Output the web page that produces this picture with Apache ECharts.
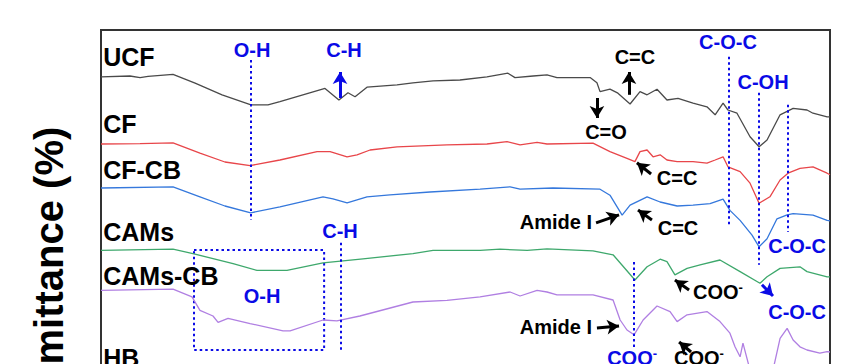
<!DOCTYPE html>
<html>
<head>
<meta charset="utf-8">
<script src="https://cdn.jsdelivr.net/npm/echarts@6/dist/echarts.min.js"></script>
<style>
html,body{margin:0;padding:0;width:850px;height:364px;overflow:hidden;background:#fff;}
#c{width:850px;height:460px;}
</style>
</head>
<body>
<div id="c"></div>
<script>
// Wavenumber (cm-1), transmittance (offset, a.u.)
const ucf = [[4000,88.3],[3869,88.5],[3823,88.1],[3787,88.4],[3674,88.9],[3574,86.7],[3452,83.8],[3321,81.3],[3244,81.3],[3190,82.1],[2986,85.4],[2923,82.5],[2882,84.3],[2850,83.3],[2796,85.7],[2660,86.3],[2588,86.8],[2497,87.3],[2375,87.5],[2253,88.3],[2158,89.2],[2126,88.1],[2044,88.5],[1981,88.8],[1936,88.1],[1786,88.1],[1755,86.8],[1741,84.6],[1696,85.2],[1660,84.2],[1605,81.5],[1560,84.6],[1528,83.8],[1483,85.2],[1438,82.5],[1388,82.9],[1320,81.7],[1257,80.8],[1220,78.8],[1184,81.7],[1162,80.0],[1121,79.2],[1062,73.3],[1021,70.8],[985,72.5],[926,78.8],[867,80.4],[804,80.0],[777,79.2],[713,78.3],[700,78.3]];
const cf = [[4000,71.5],[3823,71.6],[3674,71.8],[3552,69.2],[3439,67.0],[3325,66.1],[3190,67.5],[3022,69.6],[2963,69.6],[2886,68.3],[2841,68.8],[2782,70.0],[2660,70.8],[2434,71.3],[2253,71.5],[2162,72.1],[2103,71.3],[2026,71.9],[1981,71.5],[1773,71.7],[1696,69.6],[1619,67.9],[1583,67.1],[1560,69.6],[1528,70.0],[1501,68.3],[1469,68.8],[1438,67.5],[1392,67.1],[1320,67.1],[1257,66.7],[1220,67.5],[1184,68.3],[1162,65.8],[1107,64.6],[1062,61.7],[1021,56.7],[972,58.3],[926,62.5],[890,64.2],[836,65.4],[777,65.8],[713,64.2],[700,63.8]];
const cfcb = [[4000,60.5],[3674,60.8],[3552,58.3],[3439,56.0],[3322,54.3],[3190,55.8],[2995,58.3],[2950,57.8],[2886,56.8],[2796,58.3],[2692,58.8],[2511,59.5],[2284,60.2],[2148,60.8],[2103,60.2],[1954,60.5],[1741,60.2],[1696,58.7],[1641,53.7],[1605,56.2],[1528,58.3],[1469,57.0],[1392,56.0],[1320,56.2],[1243,56.6],[1184,57.7],[1153,54.9],[1107,52.4],[1053,48.7],[1021,45.8],[985,47.8],[940,52.8],[894,53.8],[867,54.1],[777,53.7],[713,52.4],[700,52.3]];
const cams = [[4000,44.9],[3674,45.2],[3584,44.1],[3402,41.6],[3294,39.9],[3158,39.9],[2995,41.8],[2814,42.8],[2588,44.1],[2497,44.9],[2284,44.9],[2194,45.2],[2071,44.9],[1981,45.3],[1773,44.8],[1682,43.8],[1583,37.5],[1528,40.8],[1469,42.7],[1438,42.1],[1402,38.8],[1347,40.4],[1288,41.3],[1198,42.5],[1107,39.6],[1017,36.7],[985,38.3],[926,40.4],[836,40.8],[804,39.6],[713,38.3],[700,38.3]];
const camscb = [[4000,34.9],[3674,35.2],[3588,33.3],[3552,29.9],[3493,28.5],[3470,26.9],[3425,27.9],[3325,26.6],[3176,24.8],[3144,24.8],[2995,27.5],[2932,27.3],[2828,28.5],[2588,32.0],[2434,32.4],[2284,33.3],[2148,34.5],[2103,33.5],[2026,34.9],[1981,34.5],[1936,33.8],[1773,33.8],[1682,32.5],[1650,27.5],[1619,25.0],[1587,23.8],[1546,27.5],[1483,31.0],[1424,29.6],[1392,27.1],[1347,28.8],[1257,29.6],[1198,27.1],[1153,24.2],[1130,20.8],[1107,18.3],[1094,21.7],[1062,15.0],[958,15.0],[926,22.9],[894,25.4],[867,22.5],[836,20.8],[804,20.0],[746,19.2],[713,19.6],[700,19.5]];

// Sample names placed at left of each trace: [text, wavenumber, value]
const sampleLabels = [['UCF',3990,93.3],['CF',3990,76.5],['CF-CB',3990,65.0],['CAMs',3990,49.6],['CAMs-CB',3990,38.5],['HB',3990,17.9]];
// Band assignments (blue): [text, wavenumber, value]
const blueLabels = [['O-H',3316,95.0],['C-H',2900,95.0],['C-O-C',1162,97.0],['C-OH',1003,87.0],['C-O-C',849,46.0],['C-O-C',849,29.5],['O-H',3271,33.5],['C-H',2918,49.8],['COO-',1596,18.0]];
// Band assignments (black): [text, wavenumber, value, align]
const blackLabels = [['C=C',1583,93.3,'center'],['C=O',1714,74.5,'center'],['C=C',1392,63.0,'center'],['C=C',1388,50.5,'center'],['Amide I',1777,52.0,'right'],['Amide I',1777,25.8,'right'],['COO-',1207,34.5,'center'],['COO-',1293,18.0,'center']];
// Dotted guide lines: [wavenumber, valueTop, valueBottom]
const guideLines = [[3321,92.5,52.5],[2914,46.8,19.5],[1157,93.3,50.8],[1021,84.3,41.3],[890,81.3,49.5],[1587,42.0,20.0]];
// Dotted box: [wn1, v1, wn2, v2]
const guideBox = [3579,45.0,2990,20.0];
// Arrows: [fromWn, fromV, toWn, toV, color]
const arrows = [[1755,83.0,1755,78.0,'k'],[1610,83.8,1610,89.5,'k'],[2918,83.0,2918,89.5,'b'],[1510,64.0,1574,66.8,'k'],[1506,52.5,1569,55.0,'k'],[1759,51.8,1655,53.8,'k'],[1755,25.5,1655,26.0,'k'],[1338,35.0,1402,37.5,'k'],[1329,19.5,1383,22.0,'k'],[1008,36.3,958,33.5,'b']];

const BLUE = '#0a0ae6';
const BLACK = '#000000';
const FONT = 'Arial, "Liberation Sans", sans-serif';

const chart = echarts.init(document.getElementById('c'), null, {renderer: 'svg'});

function labelFmt(color, size) {
  return {
    show: true,
    position: 'inside',
    color: color,
    fontWeight: 'bold',
    opacity: 1,
    formatter: p => p.name === 'COO-' ? '{m|COO}{s|-}' : '{m|' + p.name + '}',
    rich: {
      m: {fontFamily: FONT, fontWeight: 'bold', fontSize: size, color: color, lineHeight: size + 2},
      s: {fontFamily: FONT, fontWeight: 'bold', fontSize: Math.round(size * 0.65), color: color, verticalAlign: 'top', lineHeight: Math.round(size * 0.65)}
    }
  };
}

const lineSeries = (name, data, color) => ({
  name, type: 'line', data, showSymbol: false, symbol: 'none',
  lineStyle: {color, width: 1.3}, z: 2, silent: true
});

chart.setOption({
  animation: false,
  grid: {left: 101, top: 30, right: 20, height: 400, show: true, borderColor: '#333', borderWidth: 2, backgroundColor: 'transparent'},
  xAxis: {type: 'value', min: 700, max: 4000, inverse: true, show: false},
  yAxis: {type: 'value', min: 0, max: 100, show: false},
  graphic: [{
    type: 'text', x: 49, y: 299, rotation: Math.PI / 2,
    style: {text: 'Transmittance (%)', font: 'bold 40px ' + FONT, fill: '#000', align: 'center', verticalAlign: 'middle'}
  }],
  series: [
    lineSeries('UCF', ucf, '#4a4a4a'),
    lineSeries('CF', cf, '#e8464a'),
    lineSeries('CF-CB', cfcb, '#3578dc'),
    lineSeries('CAMs', cams, '#3ea86c'),
    lineSeries('CAMs-CB', camscb, '#b07fe2'),
    {
      name: 'samples', type: 'scatter', symbolSize: 0, silent: true, z: 5,
      itemStyle: {opacity: 1},
      data: sampleLabels.map(d => ({name: d[0], value: [d[1], d[2]], label: {align: 'left'}})),
      label: labelFmt(BLACK, 25)
    },
    {
      name: 'blue', type: 'scatter', symbolSize: 0, silent: true, z: 5,
      itemStyle: {opacity: 1},
      data: blueLabels.map(d => ({name: d[0], value: [d[1], d[2]]})),
      label: labelFmt(BLUE, 20),
      markLine: {
        silent: true, symbol: 'none', animation: false,
        lineStyle: {color: BLUE, width: 2, type: [2.5, 3], opacity: 1},
        label: {show: false},
        data: guideLines.map(g => [{coord: [g[0], g[1]]}, {coord: [g[0], g[2]]}])
      },
      markArea: {
        silent: true,
        itemStyle: {color: 'rgba(0,0,0,0)', borderColor: BLUE, borderWidth: 2, borderType: [2.5, 3], opacity: 1},
        label: {show: false},
        data: [[{coord: [guideBox[0], guideBox[1]]}, {coord: [guideBox[2], guideBox[3]]}]]
      }
    },
    {
      name: 'black', type: 'scatter', symbolSize: 0, silent: true, z: 5,
      itemStyle: {opacity: 1},
      data: blackLabels.map(d => ({name: d[0], value: [d[1], d[2]], label: {align: d[3]}})),
      label: labelFmt(BLACK, 20),
      markLine: {
        silent: true, symbol: ['none', 'arrow'], symbolSize: [11, 12], animation: false,
        label: {show: false},
        data: arrows.map(a => [
          {coord: [a[0], a[1]], lineStyle: {color: a[4] === 'b' ? BLUE : BLACK, width: 3, type: 'solid', opacity: 1}, itemStyle: {color: a[4] === 'b' ? BLUE : BLACK, opacity: 1}},
          {coord: [a[2], a[3]]}
        ])
      }
    }
  ]
});
</script>
</body>
</html>
